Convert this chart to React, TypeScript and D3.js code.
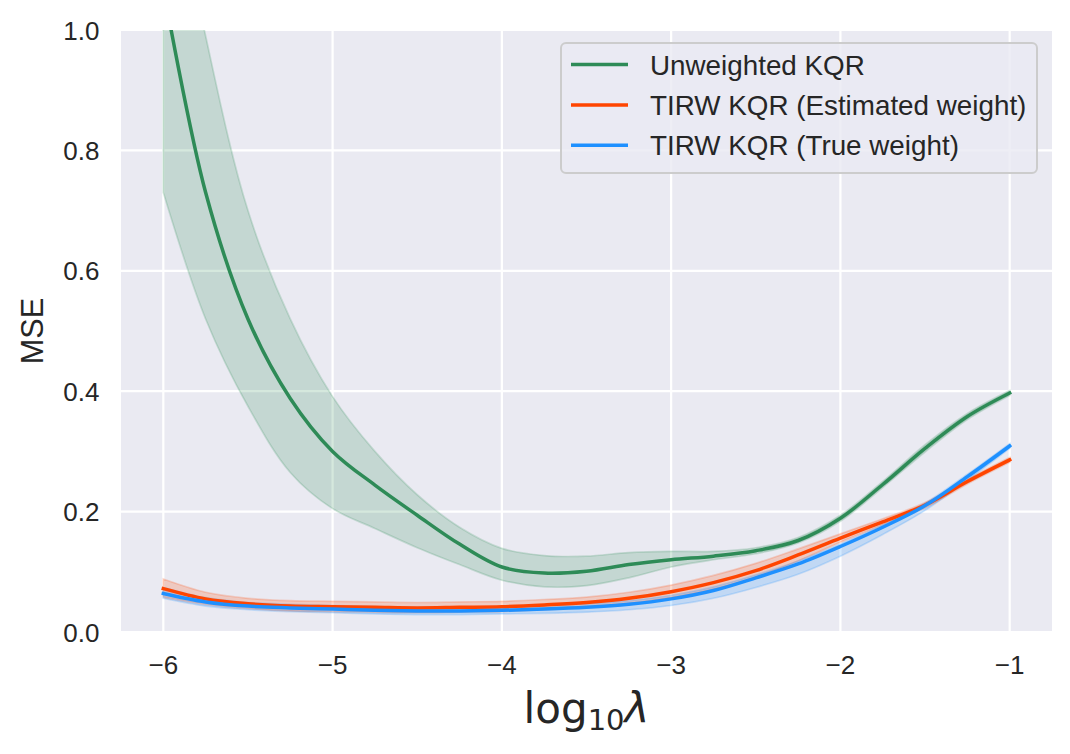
import React, { useEffect, useRef } from "react";
import * as d3 from "d3";

// log10(lambda) grid
const logLambda = [
  -6, -5.75, -5.5, -5.25, -5, -4.75, -4.5, -4.25, -4, -3.75, -3.5, -3.25, -3, -2.75, -2.5, -2.25, -2,
  -1.75, -1.5, -1.25, -1,
];

// Unweighted KQR
const unweightedMean = [
  1.07, 0.73, 0.52, 0.388, 0.3, 0.244, 0.194, 0.146, 0.108, 0.098, 0.101, 0.112, 0.12, 0.126, 0.135,
  0.152, 0.189, 0.245, 0.305, 0.358, 0.397,
];
const unweightedLow = [
  0.73, 0.52, 0.375, 0.265, 0.205, 0.172, 0.14, 0.112, 0.086, 0.075, 0.077, 0.09, 0.108, 0.12, 0.13,
  0.148, 0.184, 0.24, 0.299, 0.353, 0.393,
];
const unweightedHigh = [
  1.35, 0.99, 0.7, 0.52, 0.391, 0.3, 0.228, 0.174, 0.139, 0.127, 0.126, 0.132, 0.134, 0.134, 0.14,
  0.157, 0.194, 0.25, 0.311, 0.363, 0.401,
];

// TIRW KQR (Estimated weight)
const estimatedMean = [
  0.072, 0.055, 0.047, 0.043, 0.042, 0.041, 0.04, 0.041, 0.042, 0.045, 0.049, 0.056, 0.067, 0.082,
  0.102, 0.128, 0.156, 0.183, 0.211, 0.25, 0.286,
];
const estimatedLow = [
  0.058, 0.046, 0.039, 0.035, 0.034, 0.033, 0.032, 0.033, 0.034, 0.037, 0.041, 0.047, 0.057, 0.071,
  0.091, 0.118, 0.149, 0.178, 0.206, 0.246, 0.282,
];
const estimatedHigh = [
  0.088, 0.066, 0.056, 0.052, 0.051, 0.05, 0.049, 0.05, 0.051, 0.054, 0.058, 0.066, 0.078, 0.094,
  0.114, 0.138, 0.163, 0.188, 0.215, 0.254, 0.29,
];

// TIRW KQR (True weight)
const trueMean = [
  0.064, 0.05, 0.043, 0.04, 0.038, 0.036, 0.035, 0.035, 0.036, 0.038, 0.041, 0.046, 0.055, 0.069,
  0.09, 0.113, 0.142, 0.174, 0.21, 0.258, 0.309,
];
const trueLow = [
  0.056, 0.043, 0.037, 0.034, 0.032, 0.03, 0.029, 0.029, 0.03, 0.031, 0.033, 0.037, 0.044, 0.056,
  0.074, 0.096, 0.126, 0.162, 0.202, 0.252, 0.305,
];
const trueHigh = [
  0.074, 0.057, 0.049, 0.046, 0.044, 0.042, 0.041, 0.041, 0.042, 0.044, 0.047, 0.052, 0.061, 0.075,
  0.095, 0.118, 0.146, 0.178, 0.214, 0.262, 0.313,
];

const xTicks = [-6, -5, -4, -3, -2, -1];
const yTicks = [0, 0.2, 0.4, 0.6, 0.8, 1.0];

const seriesNames = ["Unweighted KQR", "TIRW KQR (Estimated weight)", "TIRW KQR (True weight)"];

const series = [
  { name: seriesNames[0], color: "#2e8b57", mean: unweightedMean, low: unweightedLow, high: unweightedHigh },
  { name: seriesNames[1], color: "#ff4500", mean: estimatedMean, low: estimatedLow, high: estimatedHigh },
  { name: seriesNames[2], color: "#1e90ff", mean: trueMean, low: trueLow, high: trueHigh },
];

export default function App() {
  const ref = useRef<SVGSVGElement>(null);

  useEffect(() => {
    const width = 1070,
      height = 754;
    const margin = { top: 30, right: 18, bottom: 122, left: 121 };
    const innerW = width - margin.left - margin.right,
      innerH = height - margin.top - margin.bottom;

    const svg = d3.select(ref.current);
    svg.selectAll("*").remove();

    const x = d3.scaleLinear().domain([-6.25, -0.75]).range([0, innerW]);
    const y = d3.scaleLinear().domain([0, 1]).range([innerH, 0]);

    const g = svg.append("g").attr("transform", `translate(${margin.left},${margin.top})`);

    // background + grid
    g.append("rect").attr("width", innerW).attr("height", innerH).attr("fill", "#eaeaf2");
    g.selectAll(".gx")
      .data(xTicks)
      .enter()
      .append("line")
      .attr("x1", (d) => x(d))
      .attr("x2", (d) => x(d))
      .attr("y1", 0)
      .attr("y2", innerH)
      .attr("stroke", "white")
      .attr("stroke-width", 2.2);
    g.selectAll(".gy")
      .data(yTicks)
      .enter()
      .append("line")
      .attr("x1", 0)
      .attr("x2", innerW)
      .attr("y1", (d) => y(d))
      .attr("y2", (d) => y(d))
      .attr("stroke", "white")
      .attr("stroke-width", 2.2);

    svg
      .append("clipPath")
      .attr("id", "plot-clip")
      .append("rect")
      .attr("width", innerW)
      .attr("height", innerH);

    const plot = g.append("g").attr("clip-path", "url(#plot-clip)");

    // confidence bands
    series.forEach((s) => {
      const area = d3
        .area<number>()
        .x((d, i) => x(logLambda[i]))
        .y0((d, i) => y(s.low[i]))
        .y1((d, i) => y(s.high[i]))
        .curve(d3.curveCatmullRom.alpha(0.5));
      plot
        .append("path")
        .datum(s.mean)
        .attr("d", area)
        .attr("fill", s.color)
        .attr("fill-opacity", 0.2)
        .attr("stroke", s.color)
        .attr("stroke-opacity", 0.2)
        .attr("stroke-width", 1.7);
    });

    // mean lines
    series.forEach((s) => {
      const line = d3
        .line<number>()
        .x((d, i) => x(logLambda[i]))
        .y((d) => y(d))
        .curve(d3.curveCatmullRom.alpha(0.5));
      plot
        .append("path")
        .datum(s.mean)
        .attr("d", line)
        .attr("fill", "none")
        .attr("stroke", s.color)
        .attr("stroke-width", 3.5)
        .attr("stroke-linecap", "square");
    });

    const font = "'Liberation Sans', Arial, sans-serif";
    const fmtX = (d: number) => (d < 0 ? "\u2212" + Math.abs(d) : String(d));

    // x tick labels
    g.selectAll(".tx")
      .data(xTicks)
      .enter()
      .append("text")
      .attr("x", (d) => x(d))
      .attr("y", innerH + 42)
      .attr("text-anchor", "middle")
      .attr("font-family", font)
      .attr("font-size", 26)
      .attr("fill", "#262626")
      .text(fmtX);

    // y tick labels
    g.selectAll(".ty")
      .data(yTicks)
      .enter()
      .append("text")
      .attr("x", -21.5)
      .attr("y", (d) => y(d) + 9.6)
      .attr("text-anchor", "end")
      .attr("font-family", font)
      .attr("font-size", 26)
      .attr("fill", "#262626")
      .text((d) => d3.format(".1f")(d));

    // y label
    svg
      .append("text")
      .attr("transform", `translate(43,${margin.top + innerH / 2}) rotate(-90)`)
      .attr("text-anchor", "middle")
      .attr("font-family", font)
      .attr("font-size", 30.7)
      .attr("fill", "#262626")
      .text("MSE");

    // x label: log10 λ
    const xl = svg
      .append("text")
      .attr("x", margin.left + innerW / 2)
      .attr("y", 723)
      .attr("text-anchor", "middle")
      .attr("font-family", "'DejaVu Sans', sans-serif")
      .attr("font-size", 42)
      .attr("fill", "#262626");
    xl.append("tspan").text("log");
    xl.append("tspan").attr("font-size", 29).attr("dy", 7).text("10");
    xl.append("tspan").attr("font-style", "italic").attr("dy", -7).text("\u03bb");

    // legend
    const lg = g.append("g").attr("transform", `translate(${561 - margin.left},${43 - margin.top})`);
    lg.append("rect")
      .attr("width", 476)
      .attr("height", 130)
      .attr("rx", 5)
      .attr("fill", "#eaeaf2")
      .attr("fill-opacity", 0.8)
      .attr("stroke", "#cccccc")
      .attr("stroke-width", 2);
    series.forEach((s, i) => {
      const cy = 21.5 + i * 40.4;
      lg.append("line")
        .attr("x1", 10)
        .attr("x2", 67)
        .attr("y1", cy)
        .attr("y2", cy)
        .attr("stroke", s.color)
        .attr("stroke-width", 3.5);
      lg.append("text")
        .attr("x", 89)
        .attr("y", cy + 10)
        .attr("font-family", font)
        .attr("font-size", 27.8)
        .attr("fill", "#262626")
        .text(s.name);
    });
  }, []);

  return (
    <svg
      ref={ref}
      width={1070}
      height={754}
      style={{ position: "absolute", left: 0, top: 0, background: "white" }}
    />
  );
}
